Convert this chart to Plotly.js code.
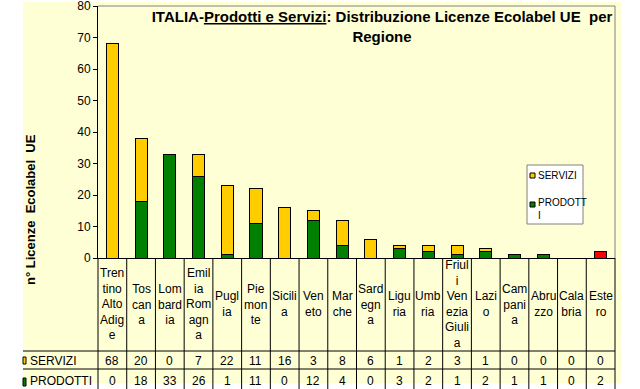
<!DOCTYPE html>
<html>
<head>
<meta charset="utf-8">
<script src="https://cdn.plot.ly/plotly-3.0.1.min.js"></script>
<style>
html, body { margin: 0; padding: 0; background: #fff; }
#chart { width: 640px; height: 389px; }
</style>
</head>
<body>
<div id="chart"></div>
<script>
// dati
var regioni = ['Trentino Alto Adige', 'Toscana', 'Lombardia', 'Emilia Romagna', 'Puglia', 'Piemonte',
    'Sicilia', 'Veneto', 'Marche', 'Sardegna', 'Liguria', 'Umbria', 'Friuli Venezia Giulia',
    'Lazio', 'Campania', 'Abruzzo', 'Calabria', 'Estero'];
var etichette = ['Tren<br>tino<br>Alto<br>Adig<br>e', 'Tos<br>can<br>a', 'Lom<br>bard<br>ia',
    'Emil<br>ia<br>Rom<br>agn<br>a', 'Pugl<br>ia', 'Pie<br>mon<br>te', 'Sicili<br>a', 'Ven<br>eto',
    'Mar<br>che', 'Sard<br>egn<br>a', 'Ligu<br>ria', 'Umb<br>ria', 'Friul<br>i<br>Ven<br>ezia<br>Giuli<br>a',
    'Lazi<br>o', 'Cam<br>pani<br>a', 'Abru<br>zzo', 'Cala<br>bria', 'Este<br>ro'];
var servizi = [68, 20, 0, 7, 22, 11, 16, 3, 8, 6, 1, 2, 3, 1, 0, 0, 0, 0];
var prodotti = [0, 18, 33, 26, 1, 11, 0, 12, 4, 0, 3, 2, 1, 2, 1, 1, 0, 2];
var nomeServizi = 'SERVIZI';
var nomeProdotti = 'PRODOTTI';

var giallo = '#FFCC00', verde = '#008000', rosso = '#FF0000';
var fondo = '#FFFFD6';
var font = 'Liberation Sans, Arial, sans-serif';

// area del grafico in pixel
var L = 98, R = 25, T = 6, B = 131, W = 640, H = 389;
var pw = W - L - R, ph = H - T - B;
function px(x) { return (x - L) / pw; }
function py(y) { return (H - B - y) / ph; }

var coloriProdotti = regioni.map(function (r) { return r === 'Estero' ? rosso : verde; });

var data = [{
    type: 'bar',
    x: regioni,
    y: prodotti,
    name: nomeProdotti,
    width: 0.42,
    marker: { color: coloriProdotti, line: { color: '#000', width: 1 } },
    hoverinfo: 'x+y+name'
}, {
    type: 'bar',
    x: regioni,
    y: servizi,
    name: nomeServizi,
    width: 0.42,
    marker: { color: giallo, line: { color: '#000', width: 1 } },
    hoverinfo: 'x+y+name'
}];

var shapes = [
    // sfondo giallo chiaro
    { type: 'rect', xref: 'paper', yref: 'paper', layer: 'below',
      x0: px(23), x1: px(621), y0: py(383), y1: py(2),
      fillcolor: fondo, line: { width: 0 } },
    // bordo superiore e destro
    { type: 'line', xref: 'paper', yref: 'paper', x0: 0, x1: 1, y0: 1, y1: 1,
      line: { color: '#808080', width: 1 } },
    { type: 'line', xref: 'paper', yref: 'paper', x0: 1, x1: 1, y0: 0, y1: 1,
      line: { color: '#808080', width: 1 } },
    // righe orizzontali della tabella
    { type: 'line', xref: 'paper', yref: 'paper', x0: px(23), x1: 1, y0: py(351), y1: py(351),
      line: { color: '#000', width: 1 } },
    { type: 'line', xref: 'paper', yref: 'paper', x0: px(23), x1: 1, y0: py(369), y1: py(369),
      line: { color: '#000', width: 1 } },
    // chiavi colorate delle righe
    { type: 'rect', xref: 'paper', yref: 'paper', x0: px(23), x1: px(26), y0: py(364), y1: py(357),
      fillcolor: giallo, line: { color: '#000', width: 1 } },
    { type: 'rect', xref: 'paper', yref: 'paper', x0: px(23), x1: px(26), y0: py(386), y1: py(378),
      fillcolor: verde, line: { color: '#000', width: 1 } },
    // legenda
    { type: 'rect', xref: 'paper', yref: 'paper', x0: px(527), x1: px(583), y0: py(224), y1: py(165),
      fillcolor: '#fff', line: { color: '#808080', width: 1 } },
    { type: 'rect', xref: 'paper', yref: 'paper', x0: px(530), x1: px(535), y0: py(178), y1: py(173),
      fillcolor: giallo, line: { color: '#000', width: 1 } },
    { type: 'rect', xref: 'paper', yref: 'paper', x0: px(530), x1: px(535), y0: py(207), y1: py(202),
      fillcolor: verde, line: { color: '#000', width: 1 } }
];

// linee verticali della tabella
for (var k = 0; k <= regioni.length; k++) {
    shapes.push({ type: 'line', xref: 'paper', yref: 'paper',
        x0: k / regioni.length, x1: k / regioni.length, y0: 0, y1: py(H),
        line: { color: '#000', width: 1 } });
}

function testo(t, x, y, size, extra) {
    var a = { text: t, xref: 'paper', yref: 'paper', x: x, y: y, xanchor: 'center', yanchor: 'middle',
        showarrow: false, font: { family: font, size: size, color: '#000' } };
    for (var key in extra) a[key] = extra[key];
    return a;
}

var annotations = [
    testo('n° Licenze\u00a0\u00a0Ecolabel\u00a0\u00a0UE', px(30), py(210), 13,
        { textangle: -90, font: { family: font, size: 13, color: '#000', weight: 'bold' } }),
    testo(nomeServizi, px(28), py(361), 12, { xanchor: 'left' }),
    testo(nomeProdotti, px(28), py(381), 12, { xanchor: 'left' }),
    testo(nomeServizi, px(536), py(175), 10, { xanchor: 'left' }),
    testo('PRODOTT<br>I', px(536), py(209), 10, { xanchor: 'left', align: 'left' })
];

regioni.forEach(function (r, i) {
    annotations.push(testo(etichette[i], r, py(304), 12, { xref: 'x' }));
    annotations.push(testo(String(servizi[i]), r, py(361), 12, { xref: 'x' }));
    annotations.push(testo(String(prodotti[i]), r, py(381), 12, { xref: 'x' }));
});

var layout = {
    width: W, height: H,
    margin: { l: L, r: R, t: T, b: B },
    barmode: 'stack',
    showlegend: false,
    paper_bgcolor: '#fff',
    plot_bgcolor: 'rgba(0,0,0,0)',
    title: {
        text: 'ITALIA-<u>Prodotti e Servizi</u>: Distribuzione Licenze Ecolabel UE\u00a0\u00a0per<br>Regione',
        x: 382 / W, xanchor: 'center', y: 1 - 22 / H, yanchor: 'top',
        font: { family: font, size: 15, color: '#000', weight: 'bold' }
    },
    xaxis: {
        type: 'category', showticklabels: false, ticks: '', showgrid: false, zeroline: false,
        showline: true, linecolor: '#000', linewidth: 1
    },
    yaxis: {
        range: [0, 80], tickvals: [0, 10, 20, 30, 40, 50, 60, 70, 80], ticks: 'outside', ticklen: 4, tickcolor: '#000',
        ticklabeloverflow: 'allow',
        showgrid: false, zeroline: false, showline: true, linecolor: '#000', linewidth: 1,
        tickfont: { family: font, size: 12, color: '#000' }
    },
    shapes: shapes,
    annotations: annotations
};

Plotly.newPlot('chart', data, layout, { displayModeBar: false, staticPlot: true });
</script>
</body>
</html>
